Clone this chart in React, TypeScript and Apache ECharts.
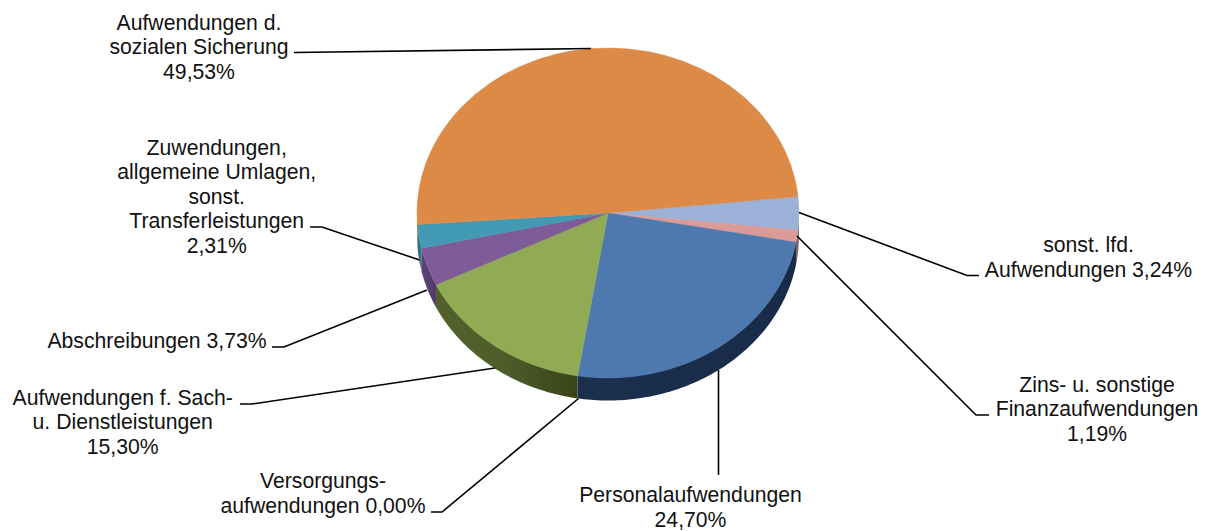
import React, { useEffect, useRef } from "react";
import * as echarts from "echarts";

// Shares in clockwise order, starting at the right rim
const categories = [
  "sonst. lfd. Aufwendungen",
  "Zins- u. sonstige Finanzaufwendungen",
  "Personalaufwendungen",
  "Versorgungsaufwendungen",
  "Aufwendungen f. Sach- u. Dienstleistungen",
  "Abschreibungen",
  "Zuwendungen, allgemeine Umlagen, sonst. Transferleistungen",
  "Aufwendungen d. sozialen Sicherung",
];
const shares = [3.24, 1.19, 24.7, 0.0, 15.3, 3.73, 2.31, 49.53];
const labelTexts = [
  "sonst. lfd.\nAufwendungen 3,24%",
  "Zins- u. sonstige\nFinanzaufwendungen\n1,19%",
  "Personalaufwendungen\n24,70%",
  "Versorgungs-\naufwendungen 0,00%",
  "Aufwendungen f. Sach-\nu. Dienstleistungen\n15,30%",
  "Abschreibungen 3,73%",
  "Zuwendungen,\nallgemeine Umlagen,\nsonst.\nTransferleistungen\n2,31%",
  "Aufwendungen d.\nsozialen Sicherung\n49,53%",
];

// Styles and layout
const topColors = ["#9bb1d8", "#d99a98", "#4e79ae", "#8064a2", "#91ab54", "#7d5c98", "#4299b4", "#dc8a45"];
const wallColors: string[][] = [
  ["#66789a", "#66789a"],
  ["#8a5a5a", "#8a5a5a"],
  ["#182b47", "#1b304f"],
  ["#3a2a50", "#3a2a50"],
  ["#384319", "#4e5c2a", "#53622c"],
  ["#523a69", "#5d4277"],
  ["#2e7387", "#2e7387"],
  ["#a8672f", "#a8672f"],
];
const CX = 608;
const CY = 213;
const RX = 191;
const RY = 165;
const DEPTH = 22.5;
const START_DEG = 84.3;
const labelCenters = [
  [1088.5, 257],
  [1097, 408.5],
  [690.5, 507],
  [323, 493],
  [122.7, 421.5],
  [157, 340],
  [216.7, 196],
  [199, 46.5],
];
const leaders = [
  [[979, 275.5], [967, 275.5], [799, 212.5]],
  [[989, 415], [976, 415], [797, 236]],
  [[718.5, 475], [718.5, 370]],
  [[431, 512], [442, 512], [578.5, 398.5]],
  [[240, 404], [252, 404], [495, 368]],
  [[272, 347], [284, 347], [427, 290]],
  [[310, 227], [322, 227], [419.5, 260]],
  [[294, 52.5], [591, 48.5]],
];

function arcPoint(deg: number, dy: number) {
  const t = ((deg - 90) * Math.PI) / 180;
  return [CX + RX * Math.cos(t), CY + dy + RY * Math.sin(t)];
}

function renderSlice(params: any, api: any) {
  const i = params.dataIndex;
  const share = api.value(0);
  const total = shares.reduce((a, b) => a + b, 0);
  const before = shares.slice(0, i).reduce((a, b) => a + b, 0);
  const from = START_DEG + (before / total) * 360;
  const to = from + (share / total) * 360;
  const children: any[] = [];
  if (to <= from) return { type: "group", children };

  const wFrom = Math.max(from, 90);
  const wTo = Math.min(to, 270);
  if (wTo > wFrom) {
    const upper: number[][] = [];
    const lower: number[][] = [];
    const steps = Math.max(2, Math.ceil(wTo - wFrom));
    for (let s = 0; s <= steps; s++) {
      const d = wFrom + ((wTo - wFrom) * s) / steps;
      upper.push(arcPoint(d, -0.5));
      lower.unshift(arcPoint(d, DEPTH));
    }
    const stops = wallColors[i];
    children.push({
      type: "polygon",
      shape: { points: upper.concat(lower) },
      style: {
        fill: new echarts.graphic.LinearGradient(
          1,
          0,
          0,
          0,
          stops.map((color, k) => ({ offset: k / (stops.length - 1), color }))
        ),
      },
    });
  }
  children.push({
    type: "group",
    x: CX,
    y: CY,
    scaleY: RY / RX,
    children: [
      {
        type: "sector",
        shape: {
          cx: 0,
          cy: 0,
          r: RX,
          r0: 0,
          startAngle: ((from - 90) * Math.PI) / 180,
          endAngle: ((to - 90) * Math.PI) / 180,
        },
        style: { fill: topColors[i], stroke: topColors[i], lineWidth: 0.5 },
      },
    ],
  });
  return { type: "group", children };
}

export default function App() {
  const ref = useRef<HTMLDivElement>(null);
  useEffect(() => {
    const chart = echarts.init(ref.current!, undefined, { renderer: "svg" });
    chart.setOption({
      animation: false,
      backgroundColor: "#ffffff",
      tooltip: { show: false },
      series: [
        {
          type: "custom",
          coordinateSystem: "none",
          renderItem: renderSlice,
          data: categories.map((name, i) => ({ name, value: [shares[i]] })),
          silent: true,
        },
      ],
      graphic: [
        ...leaders.map((points) => ({
          type: "polyline",
          z: 10,
          silent: true,
          shape: { points },
          style: { stroke: "#000000", lineWidth: 1.6, fill: "none" },
        })),
        ...labelTexts.map((text, i) => ({
          type: "text",
          z: 11,
          silent: true,
          x: labelCenters[i][0],
          y: labelCenters[i][1],
          style: {
            text,
            fill: "#111111",
            font: '21.2px "Liberation Sans", Arial, sans-serif',
            lineHeight: 24.5,
            align: "center",
            verticalAlign: "middle",
          },
        })),
      ],
    });
    return () => chart.dispose();
  }, []);
  return (
    <div
      ref={ref}
      style={{ position: "absolute", left: 0, top: 0, width: 1206, height: 531 }}
    />
  );
}
